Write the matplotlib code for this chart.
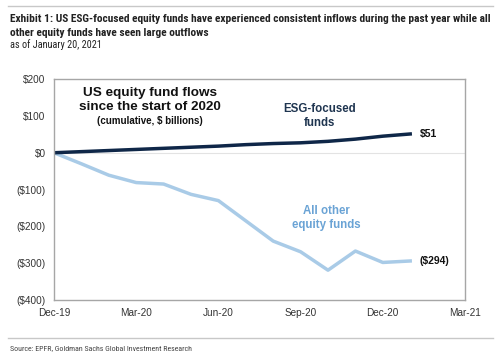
import matplotlib
matplotlib.use("Agg")
import matplotlib.pyplot as plt
from matplotlib.lines import Line2D
from matplotlib import font_manager

months = ["Dec-19", "Jan-20", "Feb-20", "Mar-20", "Apr-20", "May-20", "Jun-20",
          "Jul-20", "Aug-20", "Sep-20", "Oct-20", "Nov-20", "Dec-20", "Jan-21"]
esg = [0, 3, 6, 9, 12, 15, 18, 22, 25, 27, 31, 37, 45, 51]
other = [0, -30, -61, -81, -85, -113, -130, -185, -240, -269, -319, -267, -298, -294]
tick_labels = ["Dec-19", "Mar-20", "Jun-20", "Sep-20", "Dec-20", "Mar-21"]
yticks = [200, 100, 0, -100, -200, -300, -400]

sans = ["Liberation Sans", "DejaVu Sans"]
narrow_name = "Liberation Sans"
for cand in ["Liberation Sans Narrow", "DejaVu Sans Condensed", "Roboto Condensed"]:
    try:
        font_manager.findfont(font_manager.FontProperties(family=cand), fallback_to_default=False)
        narrow_name = cand
        break
    except Exception:
        pass
narrow = [narrow_name, "DejaVu Sans"]

fig = plt.figure(figsize=(5.0, 3.58), dpi=100)
ax = fig.add_axes([0.108, 0.162, 0.822, 0.617])

x = list(range(len(months)))
ax.plot(x, other, color="#a9cbe7", lw=2.5, solid_joinstyle="round")
ax.plot(x, esg, color="#0f2748", lw=2.5, solid_joinstyle="round")
ax.axhline(0, color="#e3e3e3", lw=0.8, zorder=0)

ax.set_xlim(0, 15)
ax.set_ylim(-400, 200)
ax.set_xticks([0, 3, 6, 9, 12, 15])
ax.set_xticklabels(tick_labels)
ax.set_yticks(yticks)
ax.set_yticklabels([f"${v}" if v >= 0 else f"(${-v})" for v in yticks])
ax.tick_params(length=0, labelsize=7.2, colors="#333333", pad=6)
for lab in ax.get_xticklabels() + ax.get_yticklabels():
    lab.set_family(sans)
for s in ax.spines.values():
    s.set_color("#a6a6a6")
    s.set_linewidth(1.0)

def fx(px):
    return px / 500
def fy(py):
    return 1 - py / 358

ax.text(3.5, 178, "US equity fund flows\nsince the start of 2020", ha="center", va="top",
        fontsize=9.7, fontweight="bold", color="#111111", family=sans, linespacing=1.2)
ax.text(3.5, 101, "(cumulative, $ billions)", ha="center", va="top",
        fontsize=7, fontweight="bold", color="#111111", family=sans)
ax.text(9.7, 135, "ESG-focused\nfunds", ha="center", va="top", fontsize=8.3,
        fontweight="bold", color="#1f3550", family=sans, linespacing=1.2)
ax.text(13.35, 51, "$51", ha="left", va="center", fontsize=7.5,
        fontweight="bold", color="#111111", family=sans)
ax.text(9.95, -142, "All other\nequity funds", ha="center", va="top", fontsize=8.3,
        fontweight="bold", color="#6aa3d5", family=sans, linespacing=1.2)
ax.text(13.35, -294, "($294)", ha="left", va="center", fontsize=7.5,
        fontweight="bold", color="#111111", family=sans)

fig.add_artist(Line2D([fx(8), fx(493)], [fy(6), fy(6)], color="#c8c8c8", lw=1.0))
fig.add_artist(Line2D([fx(8), fx(493)], [fy(338), fy(338)], color="#c8c8c8", lw=1.0))

t1 = fig.text(fx(10), fy(19), "Exhibit 1: US ESG-focused equity funds have experienced consistent inflows during the past year while all",
              ha="left", va="center", fontsize=7.6, fontweight="bold", color="#222222", family=narrow)
t2 = fig.text(fx(10), fy(33), "other equity funds have seen large outflows",
              ha="left", va="center", fontsize=7.6, fontweight="bold", color="#222222", family=narrow)
t3 = fig.text(fx(10), fy(45), "as of January 20, 2021", ha="left", va="center",
              fontsize=7.4, color="#222222", family=narrow)
t4 = fig.text(fx(10), fy(348), "Source: EPFR, Goldman Sachs Global Investment Research", ha="left",
              va="center", fontsize=6, color="#444444", family=narrow)

# fit the text widths to the reference's
fig.canvas.draw()
r = fig.canvas.get_renderer()
w = t1.get_window_extent(r).width
scale = 477.0 / w
for t in (t1, t2):
    t.set_fontsize(7.6 * scale)
w3 = t3.get_window_extent(r).width
t3.set_fontsize(7.4 * 92.0 / w3)
w4 = t4.get_window_extent(r).width
t4.set_fontsize(6 * 183.0 / w4)

fig.savefig("out.png", dpi=100)
